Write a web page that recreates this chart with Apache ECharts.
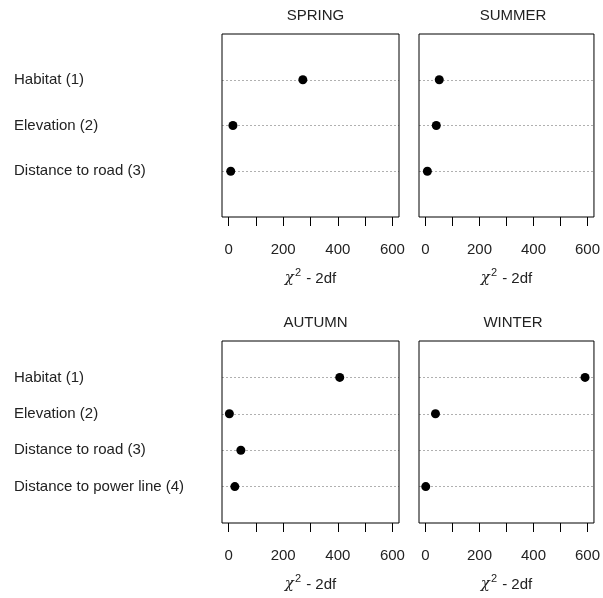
<!DOCTYPE html>
<html>
<head>
<meta charset="utf-8">
<script src="https://cdn.jsdelivr.net/npm/echarts@6/dist/echarts.min.js"></script>
<style>html,body{margin:0;padding:0;background:#fff;}#c{width:603px;height:598px;}</style>
</head>
<body>
<div id="c"></div>
<script>
const catsTop = ['Habitat (1)', 'Elevation (2)', 'Distance to road (3)'];
const catsBottom = ['Habitat (1)', 'Elevation (2)', 'Distance to road (3)', 'Distance to power line (4)'];
const seasons = ['SPRING', 'SUMMER', 'AUTUMN', 'WINTER'];
const spring = [272, 16, 8];
const summer = [51, 40, 7];
const autumn = [407, 3, 45, 23];
const winter = [591, 37, null, 1];
const xTicks = [0, 100, 200, 300, 400, 500, 600];
const xLabels = [0, 200, 400, 600];

const chart = echarts.init(document.getElementById('c'), null, {renderer: 'canvas'});
const font = 'Liberation Sans, Arial, sans-serif';
const panels = [
  {grid: {left: 222, top: 34, width: 177, height: 183}, cats: catsTop, vals: spring, showY: true},
  {grid: {left: 419, top: 34, width: 178, height: 183}, cats: catsTop, vals: summer, showY: false},
  {grid: {left: 222, top: 341, width: 177, height: 182}, cats: catsBottom, vals: autumn, showY: true},
  {grid: {left: 419, top: 341, width: 178, height: 182}, cats: catsBottom, vals: winter, showY: false}
];

const option = {
  animation: false,
  backgroundColor: '#fff',
  title: panels.map((p, i) => ({
    text: seasons[i],
    left: p.grid.left + p.grid.width / 2,
    top: p.grid.top - 31,
    textAlign: 'center',
    textStyle: {fontFamily: font, fontSize: 15, fontWeight: 'normal', color: '#222'}
  })),
  grid: panels.map(p => Object.assign({show: true, borderColor: '#000', borderWidth: 1, backgroundColor: 'transparent', z: 10}, p.grid)),
  xAxis: panels.map((p, i) => ({
    type: 'value', gridIndex: i, min: -24, max: 624, position: 'bottom',
    axisLine: {show: false, onZero: false},
    splitLine: {show: false},
    axisTick: {show: true, length: 9, customValues: xTicks, lineStyle: {color: '#000'}},
    axisLabel: {customValues: xLabels, margin: 25, fontFamily: font, fontSize: 15, color: '#222'},
    name: '{chi|χ}{sup|2}{t| - 2df}',
    nameLocation: 'middle',
    nameGap: 50,
    nameTextStyle: {
      fontFamily: font, fontSize: 15, color: '#222',
      rich: {
        chi: {fontFamily: 'DejaVu Serif, serif', fontSize: 15, fontStyle: 'italic', color: '#222'},
        sup: {fontFamily: font, fontSize: 11, color: '#222', padding: [0, 1, 12, 1], verticalAlign: 'top'},
        t: {fontFamily: font, fontSize: 15, color: '#222'}
      }
    }
  })),
  yAxis: panels.map((p, i) => ({
    type: 'value', gridIndex: i, min: 0, max: p.cats.length + 1, interval: 1, inverse: true,
    axisLine: {show: false},
    axisTick: {show: false},
    splitLine: {show: true, showMinLine: false, showMaxLine: false, lineStyle: {color: '#b0b0b0', type: [2, 2], width: 1}},
    axisLabel: {
      show: p.showY, align: 'left', margin: p.grid.left - 14,
      fontFamily: font, fontSize: 15, color: '#222',
      formatter: v => (v >= 1 && v <= p.cats.length) ? p.cats[v - 1] : ''
    }
  })),
  series: panels.map((p, i) => ({
    type: 'scatter', xAxisIndex: i, yAxisIndex: i,
    symbol: 'circle', symbolSize: 9,
    itemStyle: {color: '#000', opacity: 1},
    data: p.vals.map((v, k) => v == null ? null : [v, k + 1]).filter(d => d)
  }))
};
chart.setOption(option);
</script>
</body>
</html>
